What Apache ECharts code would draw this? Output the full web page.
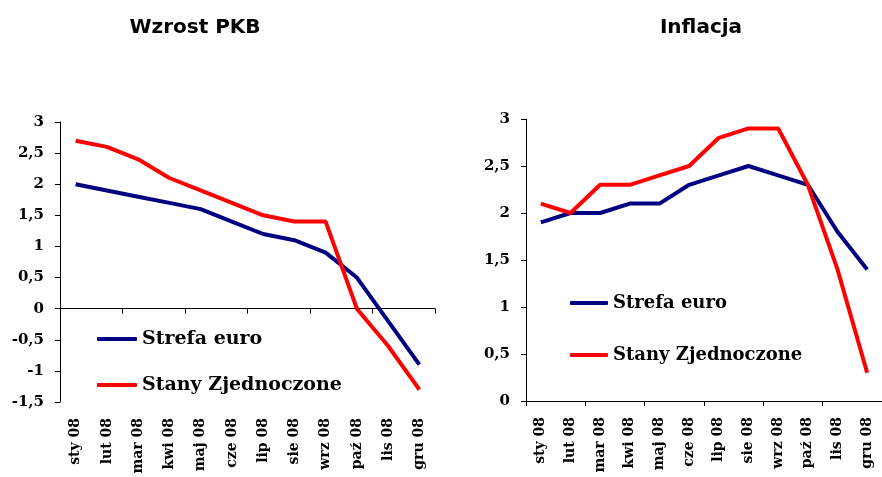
<!DOCTYPE html>
<html>
<head>
<meta charset="utf-8">
<script src="https://cdn.jsdelivr.net/npm/echarts@6/dist/echarts.min.js"></script>
<style>
html,body{margin:0;padding:0;background:#fff;}
#c{width:882px;height:477px;}
</style>
</head>
<body>
<div id="c"></div>
<script>
const months = ['sty 08','lut 08','mar 08','kwi 08','maj 08','cze 08','lip 08','sie 08','wrz 08','paź 08','lis 08','gru 08'];
const seriesNames = ['Strefa euro','Stany Zjednoczone'];
const pkbEuro = [2.0, 1.9, 1.8, 1.7, 1.6, 1.4, 1.2, 1.1, 0.9, 0.5, -0.2, -0.9];
const pkbUS   = [2.7, 2.6, 2.4, 2.1, 1.9, 1.7, 1.5, 1.4, 1.4, 0.0, -0.6, -1.3];
const infEuro = [1.9, 2.0, 2.0, 2.1, 2.1, 2.3, 2.4, 2.5, 2.4, 2.3, 1.8, 1.4];
const infUS   = [2.1, 2.0, 2.3, 2.3, 2.4, 2.5, 2.8, 2.9, 2.9, 2.3, 1.4, 0.3];
const titles = ['Wzrost PKB','Inflacja'];

const NAVY = '#000080', RED = '#ff0000';
const serif = 'DejaVu Serif';
const fmt = v => String(v).replace('.', ',');

const chart = echarts.init(document.getElementById('c'));
const axisLine = {lineStyle:{color:'#000', width:1}};

function xAxes(gridIndex){
  return [
    {type:'category', gridIndex, data:months, boundaryGap:true,
     axisLine:Object.assign({onZero:true}, axisLine),
     axisTick:{show:true, length:5, lineStyle:{color:'#000'}},
     axisLabel:{show:false}},
    {type:'category', gridIndex, data:months, boundaryGap:true, position:'bottom',
     axisLine:{show:false, onZero:false}, axisTick:{show:false},
     axisLabel:{rotate:90, interval:0, margin:16, color:'#000',
       fontFamily:serif, fontWeight:'bold', fontSize:14}}
  ];
}
function yAxis(gridIndex, min, max){
  return {type:'value', gridIndex, min, max, interval:0.5,
    splitLine:{show:false},
    axisLine:{show:true, onZero:false, lineStyle:{color:'#000', width:1}},
    axisTick:{show:true, length:5, lineStyle:{color:'#000'}},
    axisLabel:{margin:16, color:'#000', fontFamily:serif, fontWeight:'bold', fontSize:15,
      formatter:fmt}};
}
function line(name, data, color, xi, yi){
  return {type:'line', name, data, xAxisIndex:xi, yAxisIndex:yi,
    symbol:'none', smooth:false, lineStyle:{color, width:4}, itemStyle:{color},
    emphasis:{disabled:true}};
}
function legend(left, top, gap, iw, fs){
  return {data:seriesNames, orient:'vertical', left, top, itemGap:gap,
    itemWidth:iw, itemHeight:4, icon:'roundRect', itemStyle:{borderWidth:0},
    textStyle:{fontFamily:serif, fontWeight:'bold', fontSize:fs, color:'#000', lineHeight:20},
    selectedMode:false};
}

chart.setOption({
  animation:false,
  backgroundColor:'#fff',
  title:[
    {text:titles[0], left:190, top:13, textAlign:'center',
     textStyle:{fontFamily:'DejaVu Sans', fontWeight:'bold', fontSize:20, color:'#000'}},
    {text:titles[1], left:696, top:13, textAlign:'center',
     textStyle:{fontFamily:'DejaVu Sans', fontWeight:'bold', fontSize:20, color:'#000'}}
  ],
  grid:[
    {left:60, top:122, width:375, height:280},
    {left:526, top:119, width:358, height:282}
  ],
  xAxis:[...xAxes(0), ...xAxes(1)],
  yAxis:[yAxis(0,-1.5,3), yAxis(1,0,3)],
  legend:[legend(92, 324, 26, 40, 19), legend(565, 288, 32, 38, 18)],
  series:[
    line(seriesNames[0], pkbEuro, NAVY, 0, 0),
    line(seriesNames[1], pkbUS, RED, 0, 0),
    line(seriesNames[0], infEuro, NAVY, 2, 1),
    line(seriesNames[1], infUS, RED, 2, 1)
  ]
});
</script>
</body>
</html>
